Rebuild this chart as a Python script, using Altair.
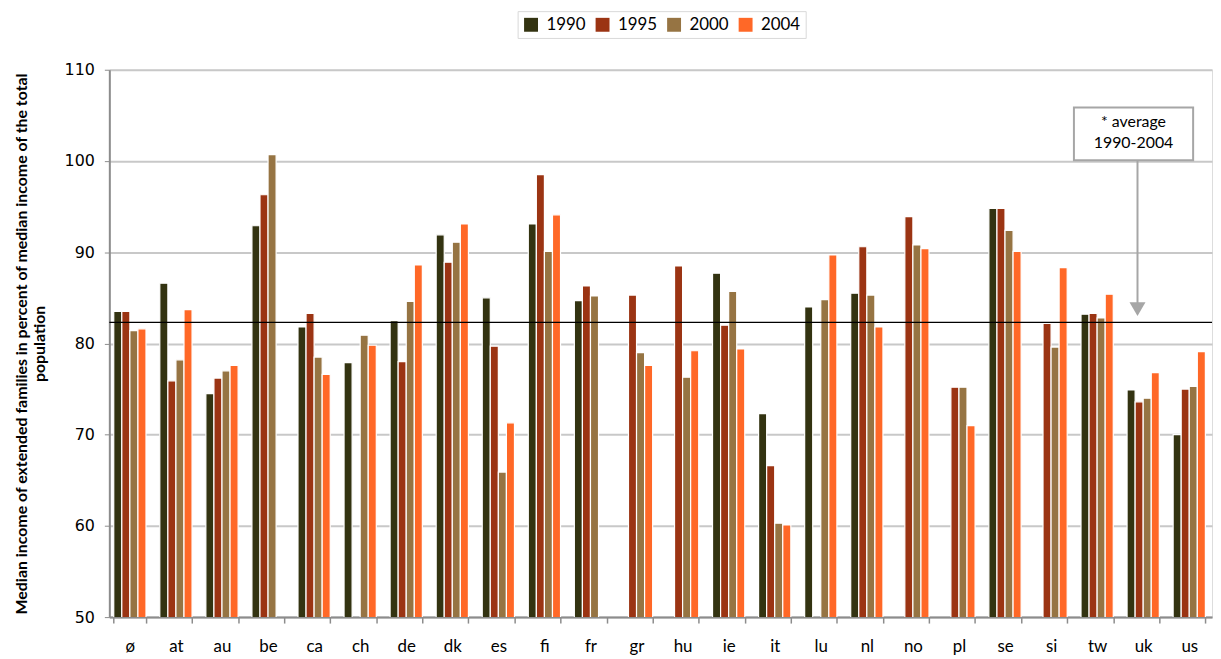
import altair as alt
import pandas as pd

countries = ["ø", "at", "au", "be", "ca", "ch", "de", "dk", "es", "fi", "fr", "gr",
             "hu", "ie", "it", "lu", "nl", "no", "pl", "se", "si", "tw", "uk", "us"]
years = ["1990", "1995", "2000", "2004"]
v1990 = [83.5, 86.6, 74.5, 92.9, 81.8, 77.9, 82.5, 91.9, 85.0, 93.1, 84.7, None,
         None, 87.7, 72.3, 84.0, 85.5, None, None, 94.8, None, 83.2, 74.9, 70.0]
v1995 = [83.5, 75.9, 76.2, 96.3, 83.3, None, 78.0, 88.9, 79.7, 98.5, 86.3, 85.3,
         88.5, 82.0, 66.6, None, 90.6, 93.9, 75.2, 94.8, 82.2, 83.3, 73.6, 75.0]
v2000 = [81.4, 78.2, 77.0, 100.7, 78.5, 80.9, 84.6, 91.1, 65.9, 90.1, 85.2, 79.0,
         76.3, 85.7, 60.3, 84.8, 85.3, 90.8, 75.2, 92.4, 79.6, 82.8, 74.0, 75.3]
v2004 = [81.6, 83.7, 77.6, None, 76.6, 79.8, 88.6, 93.1, 71.3, 94.1, None, 77.6,
         79.2, 79.4, 60.1, 89.7, 81.8, 90.4, 71.0, 90.1, 88.3, 85.4, 76.8, 79.1]
colors = ["#333311", "#9B3413", "#967443", "#FF6827"]
average = 82.3
note_lines = ["* average", "1990-2004"]
y_title = ["Median income of extended families in percent of median income of the total",
           "population"]

rows = []
for series, yr in zip([v1990, v1995, v2000, v2004], years):
    for c, v in zip(countries, series):
        if v is not None:
            rows.append({"country": c, "year": yr, "value": v})
df = pd.DataFrame(rows)

W, H = 1110, 551
FONT = "Lato"

bars = alt.Chart(df).mark_bar(stroke="white", strokeWidth=1.2, clip=True).encode(
    x=alt.X("country:N", sort=countries,
            scale=alt.Scale(paddingInner=0.3, paddingOuter=0.12, align=0.4),
            axis=alt.Axis(title=None, labelAngle=0, labelFont=FONT, labelFontSize=17,
                          labelColor="black", labelPadding=16, tickBand="extent",
                          tickColor="#8c8c8c", tickSize=6, tickWidth=1.5,
                          domainColor="#8c8c8c", domainWidth=2, grid=False)),
    xOffset=alt.XOffset("year:N", sort=years, scale=alt.Scale(paddingInner=0, paddingOuter=0)),
    y=alt.Y("value:Q",
            scale=alt.Scale(domain=[50, 110], zero=False, nice=False),
            axis=alt.Axis(title=y_title, titleFont=FONT, titleFontSize=16,
                          titleFontWeight="bold", titleColor="black", titlePadding=17,
                          values=[50, 60, 70, 80, 90, 100, 110],
                          labelFont="DejaVu Sans", labelFontSize=16, labelColor="black",
                          labelPadding=10, tickColor="#8c8c8c", tickSize=5,
                          domainColor="#8c8c8c", domainWidth=2,
                          gridColor="#c8c8c8", gridWidth=2)),
    color=alt.Color("year:N", sort=years,
                    scale=alt.Scale(domain=years, range=colors),
                    legend=alt.Legend(title=None, orient="none", direction="horizontal",
                                      legendX=411, legendY=-59, columns=4,
                                      symbolType="square", symbolSize=196,
                                      symbolStrokeWidth=0, labelFont=FONT,
                                      labelFontSize=17, labelColor="black",
                                      columnPadding=8, labelOffset=7,
                                      padding=5, strokeColor="#d9d9d9",
                                      fillColor="white")),
)

avg_line = alt.Chart(pd.DataFrame({"avg": [average]})).mark_rule(
    color="black", strokeWidth=1.2).encode(y="avg:Q")

box = alt.Chart(pd.DataFrame({"a": [0]})).mark_rect(
    fill="white", stroke="#a6a6a6", strokeWidth=2).encode(
    x=alt.value(971), x2=alt.value(1091), y=alt.value(38), y2=alt.value(91))

arrow_line = alt.Chart(pd.DataFrame({"a": [0]})).mark_rule(
    color="#a6a6a6", strokeWidth=2).encode(
    x=alt.value(1035), y=alt.value(91), y2=alt.value(236))

arrow_head = alt.Chart(pd.DataFrame({"a": [0]})).mark_point(
    shape="triangle-down", filled=True, color="#a6a6a6", opacity=1, size=260).encode(
    x=alt.value(1035), y=alt.value(241))

note = alt.Chart(pd.DataFrame({"t": ["\n".join(note_lines)]})).mark_text(
    font=FONT, fontSize=16, color="black", lineBreak="\n", lineHeight=21,
    baseline="top").encode(
    x=alt.value(1031), y=alt.value(45), text="t:N")

chart = alt.layer(bars, avg_line, arrow_line, arrow_head, box, note).properties(
    width=W, height=H, padding={"left": 5, "top": 0, "right": 0, "bottom": 0}
).configure_view(stroke="#8c8c8c", strokeWidth=2).configure(background="white")

chart.save("out.html", embed_options={"renderer": "svg", "actions": False})
